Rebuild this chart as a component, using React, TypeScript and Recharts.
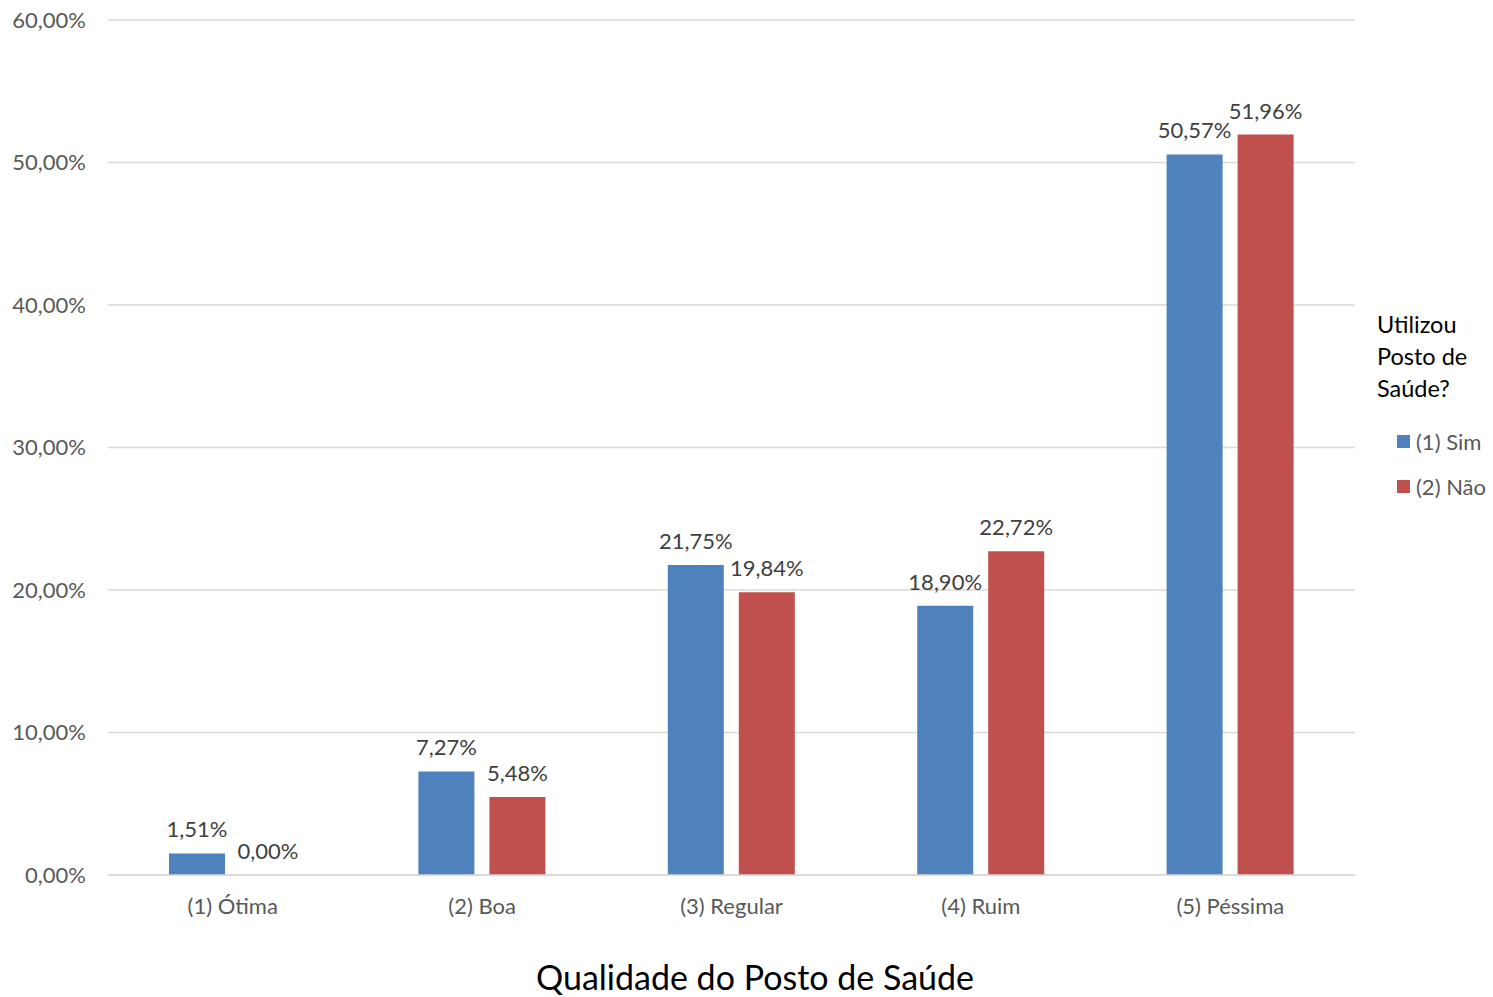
import React from "react";
import { BarChart, Bar, XAxis, YAxis, CartesianGrid, LabelList } from "recharts";

const CATEGORIES = ["(1) Ótima", "(2) Boa", "(3) Regular", "(4) Ruim", "(5) Péssima"];
const SIM = [1.51, 7.27, 21.75, 18.9, 50.57];
const NAO = [0, 5.48, 19.84, 22.72, 51.96];
const Y_TICKS = [0, 10, 20, 30, 40, 50, 60];

const SERIES = [
  { key: "sim", name: "(1) Sim", color: "#4F81BD" },
  { key: "nao", name: "(2) Não", color: "#C0504D" },
];

const FONT = "Lato, 'Open Sans', sans-serif";

const data = CATEGORIES.map((name, i) => ({ name, sim: SIM[i], nao: NAO[i] }));

const pct = (v: number) => v.toFixed(2).replace(".", ",") + "%";

function LegendBox() {
  return (
    <div style={{ position: "absolute", left: 1377, top: 308, fontFamily: FONT, width: 120 }}>
      <div style={{ fontSize: 23.5, color: "#000", lineHeight: "32px", marginBottom: 15 }}>
        Utilizou
        <br />
        Posto de
        <br />
        Saúde?
      </div>
      {SERIES.map((s) => (
        <div
          key={s.key}
          style={{
            display: "flex",
            alignItems: "center",
            marginLeft: 20,
            height: 45,
            fontSize: 22,
            color: "#595959",
          }}
        >
          <span style={{ width: 13, height: 13, background: s.color, marginRight: 6 }} />
          {s.name}
        </div>
      ))}
    </div>
  );
}

export default function App() {
  return (
    <div style={{ position: "absolute", left: 0, top: 0, width: 1493, height: 997, background: "#fff" }}>
      <BarChart
        width={1493}
        height={997}
        data={data}
        margin={{ top: 20, right: 138, bottom: 92, left: 0 }}
        barCategoryGap="24.5%"
        barGap={15}
      >
        <CartesianGrid vertical={false} stroke="#d9d9d9" strokeWidth={1.5} />
        <XAxis
          dataKey="name"
          height={30}
          tickLine={false}
          axisLine={{ stroke: "#d9d9d9", strokeWidth: 1.5 }}
          tick={{ fill: "#595959", fontSize: 22, fontFamily: FONT }}
          tickMargin={17}
        />
        <YAxis
          width={108}
          domain={[0, 60]}
          ticks={Y_TICKS}
          tickFormatter={pct}
          tickLine={false}
          axisLine={false}
          tickSize={0}
          tickMargin={22}
          tick={{ fill: "#595959", fontSize: 22, fontFamily: FONT }}
        />
        {SERIES.map((s) => (
          <Bar
            key={s.key}
            dataKey={s.key}
            name={s.name}
            fill={s.color}
            barSize={56}
            minPointSize={0.01}
            isAnimationActive={false}
          >
            <LabelList
              dataKey={s.key}
              position="top"
              offset={16}
              formatter={(v: number) => pct(v)}
              style={{ fill: "#404040", fontSize: 22, fontFamily: FONT }}
            />
          </Bar>
        ))}
      </BarChart>
      <LegendBox />
      <div
        style={{
          position: "absolute",
          left: 0,
          width: 1510,
          top: 956,
          textAlign: "center",
          fontFamily: FONT,
          fontSize: 34,
          color: "#000",
        }}
      >
        Qualidade do Posto de Saúde
      </div>
    </div>
  );
}
